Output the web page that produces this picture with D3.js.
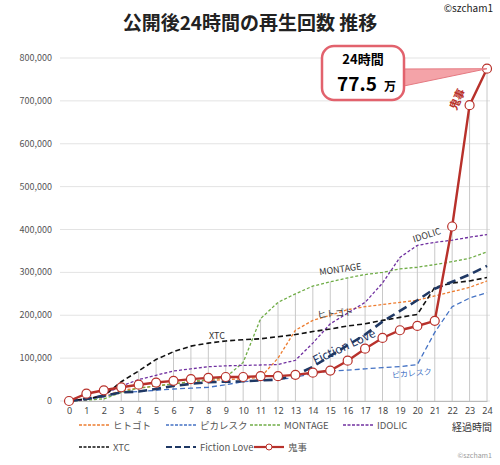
<!DOCTYPE html>
<html><head><meta charset="utf-8">
<script src="https://cdn.jsdelivr.net/npm/d3@7"></script>
<style>
body{margin:0;background:#fff;font-family:"Noto Sans CJK JP","Noto Sans",sans-serif}
</style></head>
<body><svg id="c" width="500" height="465"></svg>
<script>
const hours = d3.range(0, 25)
const yTicks = [0,100000,200000,300000,400000,500000,600000,700000,800000]
// values in thousands
const hitogoto = [0,3,10,25,30,35,40,45,48,50,52,55,100,165,188,200,213,220,225,230,235,245,255,265,280]
const picaresque = [0,3,10,20,22,25,28,30,32,38,45,48,50,55,65,70,72,75,78,80,85,160,220,240,253]
const montage = [0,2,5,20,30,35,40,45,50,55,90,192,230,250,268,278,287,295,300,308,312,318,325,333,348]
const idolic = [0,3,15,35,50,60,70,75,80,82,83,84,85,95,135,180,205,230,275,335,363,370,375,382,388]
const xtc = [0,5,12,45,70,97,115,128,135,140,143,145,150,155,162,168,175,180,188,195,202,265,275,280,288]
const fictionLove = [0,5,12,20,22,28,35,40,44,45,46,48,50,60,80,105,130,155,185,210,235,262,278,295,315]
const onigoto = [0,17,25,32,38,43,47,51,54,56,56,58,58,61,66,71,94,122,147,165,175,187,407,690,775]

const series = [
  {name:"ヒトゴト", v:hitogoto, color:"#ed7d31", dash:"3,2", w:1.3},
  {name:"ピカレスク", v:picaresque, color:"#4472c4", dash:"5,3", w:1.3},
  {name:"MONTAGE", v:montage, color:"#70ad47", dash:"3,2", w:1.3},
  {name:"IDOLIC", v:idolic, color:"#7030a0", dash:"3,2", w:1.3},
  {name:"XTC", v:xtc, color:"#111", dash:"5,3", w:1.6},
  {name:"Fiction Love", v:fictionLove, color:"#1f3864", dash:"9,5", w:2.6},
  {name:"鬼事", v:onigoto, color:"#b8312b", dash:null, w:2.4}
]

const svg = d3.select("#c")
const x = d3.scaleLinear().domain([0,24]).range([69,487])
const y = d3.scaleLinear().domain([0,800000]).range([401,58])

// grid
svg.append("g").selectAll("line").data(yTicks).join("line")
  .attr("x1",60).attr("x2",490).attr("y1",d=>y(d)).attr("y2",d=>y(d))
  .attr("stroke","#e3e3e3")
svg.append("g").selectAll("text").data(yTicks).join("text")
  .attr("x",52).attr("y",d=>y(d)+3).attr("text-anchor","end")
  .attr("font-size",9).attr("fill","#555").text(d=>d3.format(",")(d))

// drop lines to the highest value at each hour
svg.append("g").selectAll("line").data(hours.slice(1)).join("line")
  .attr("x1",d=>x(d)).attr("x2",d=>x(d)).attr("y1",y(0))
  .attr("y2",d=>y(d3.max(series,s=>s.v[d])*1000))
  .attr("stroke","#c8c8c8").attr("stroke-width",1)

svg.append("g").attr("transform",`translate(0,${y(0)})`)
  .call(d3.axisBottom(x).tickValues(hours).tickSize(0).tickPadding(7))
  .call(g=>g.select(".domain").attr("stroke","#bbb"))
  .call(g=>g.selectAll("text").attr("font-size",9).attr("fill","#444").attr("font-family","Noto Sans"))

const line = d3.line().x((d,i)=>x(i)).y(d=>y(d*1000))
series.forEach(s=>{
  svg.append("path").attr("d",line(s.v)).attr("fill","none")
    .attr("stroke",s.color).attr("stroke-width",s.w)
    .attr("stroke-dasharray",s.dash)
})
svg.append("g").selectAll("circle").data(onigoto).join("circle")
  .attr("cx",(d,i)=>x(i)).attr("cy",d=>y(d*1000)).attr("r",4.5)
  .attr("fill","#fff").attr("stroke","#b8312b").attr("stroke-width",1.2)

// in-chart labels
function lab(t,xi,yv,opt){
  svg.append("text").attr("transform",`translate(${x(xi)},${y(yv*1000)}) rotate(${opt.r||0})`)
    .attr("font-size",opt.fs||9).attr("fill",opt.c||"#333").attr("font-weight",opt.b?"bold":null)
    .attr("text-anchor","middle").attr("font-family",opt.f||"Noto Sans CJK JP").text(t)
}
lab("XTC",8.5,145,{})
lab("MONTAGE",15.6,300,{r:-8})
lab("ヒトゴト",15.3,197,{r:-5})
lab("Fiction Love",15.9,118,{r:-25,fs:12,c:"#1f3864"})
lab("ピカレスク",19.7,58,{r:-5,c:"#4472c4",fs:8})
lab("IDOLIC",20.6,380,{r:-18})
lab("鬼事",22.5,700,{r:-65,fs:11,c:"#b8312b",b:true})

// callout
const cx = 363, cy = 73
svg.append("path").attr("d",`M${cx+36},${cy-4} L${x(24)},${y(775000)} L${cx+36},${cy+14}Z`)
  .attr("fill","#f4a3a8").attr("stroke","#e57a82")
svg.append("rect").attr("x",cx-41).attr("y",cy-27).attr("width",82).attr("height",54).attr("rx",12)
  .attr("fill","#fff").attr("stroke","#e2626d").attr("stroke-width",2.5)
svg.append("text").attr("x",cx).attr("y",cy-9).attr("text-anchor","middle")
  .attr("font-size",13).attr("font-weight","bold").text("24時間")
svg.append("text").attr("x",cx-6).attr("y",cy+18).attr("text-anchor","middle")
  .attr("font-size",19).attr("font-weight","bold").text("77.5")
svg.append("text").attr("x",cx+27).attr("y",cy+18).attr("text-anchor","middle")
  .attr("font-size",12).attr("font-weight","bold").text("万")

// title
svg.append("text").attr("x",250).attr("y",30).attr("text-anchor","middle")
  .attr("font-size",19).attr("font-weight","bold").attr("fill","#222").text("公開後24時間の再生回数 推移")
svg.append("text").attr("x",493).attr("y",12).attr("text-anchor","end")
  .attr("font-size",10).attr("fill","#222").text("©szcham1")
svg.append("text").attr("x",492).attr("y",431).attr("text-anchor","end")
  .attr("font-size",10).attr("fill","#333").text("経過時間")
svg.append("text").attr("x",492).attr("y",458).attr("text-anchor","end")
  .attr("font-size",7).attr("fill","#999").text("©szcham1")

// legend
const lx = [79,166,250,343]
series.forEach((s,i)=>{
  const gx = i<4 ? lx[i] : [79,166,254][i-4], gy = i<4 ? 428 : 450
  svg.append("line").attr("x1",gx).attr("x2",gx+30).attr("y1",gy-3).attr("y2",gy-3)
    .attr("stroke",s.color).attr("stroke-width",Math.min(s.w,2.2)).attr("stroke-dasharray",s.dash?(i==5?"6,3":"3,1.5"):null)
  if(!s.dash) svg.append("circle").attr("cx",gx+15).attr("cy",gy-3).attr("r",3)
    .attr("fill","#fff").attr("stroke",s.color)
  svg.append("text").attr("x",gx+34).attr("y",gy+1).attr("font-size",9.5).attr("fill","#555").text(s.name)
})
</script></body></html>
